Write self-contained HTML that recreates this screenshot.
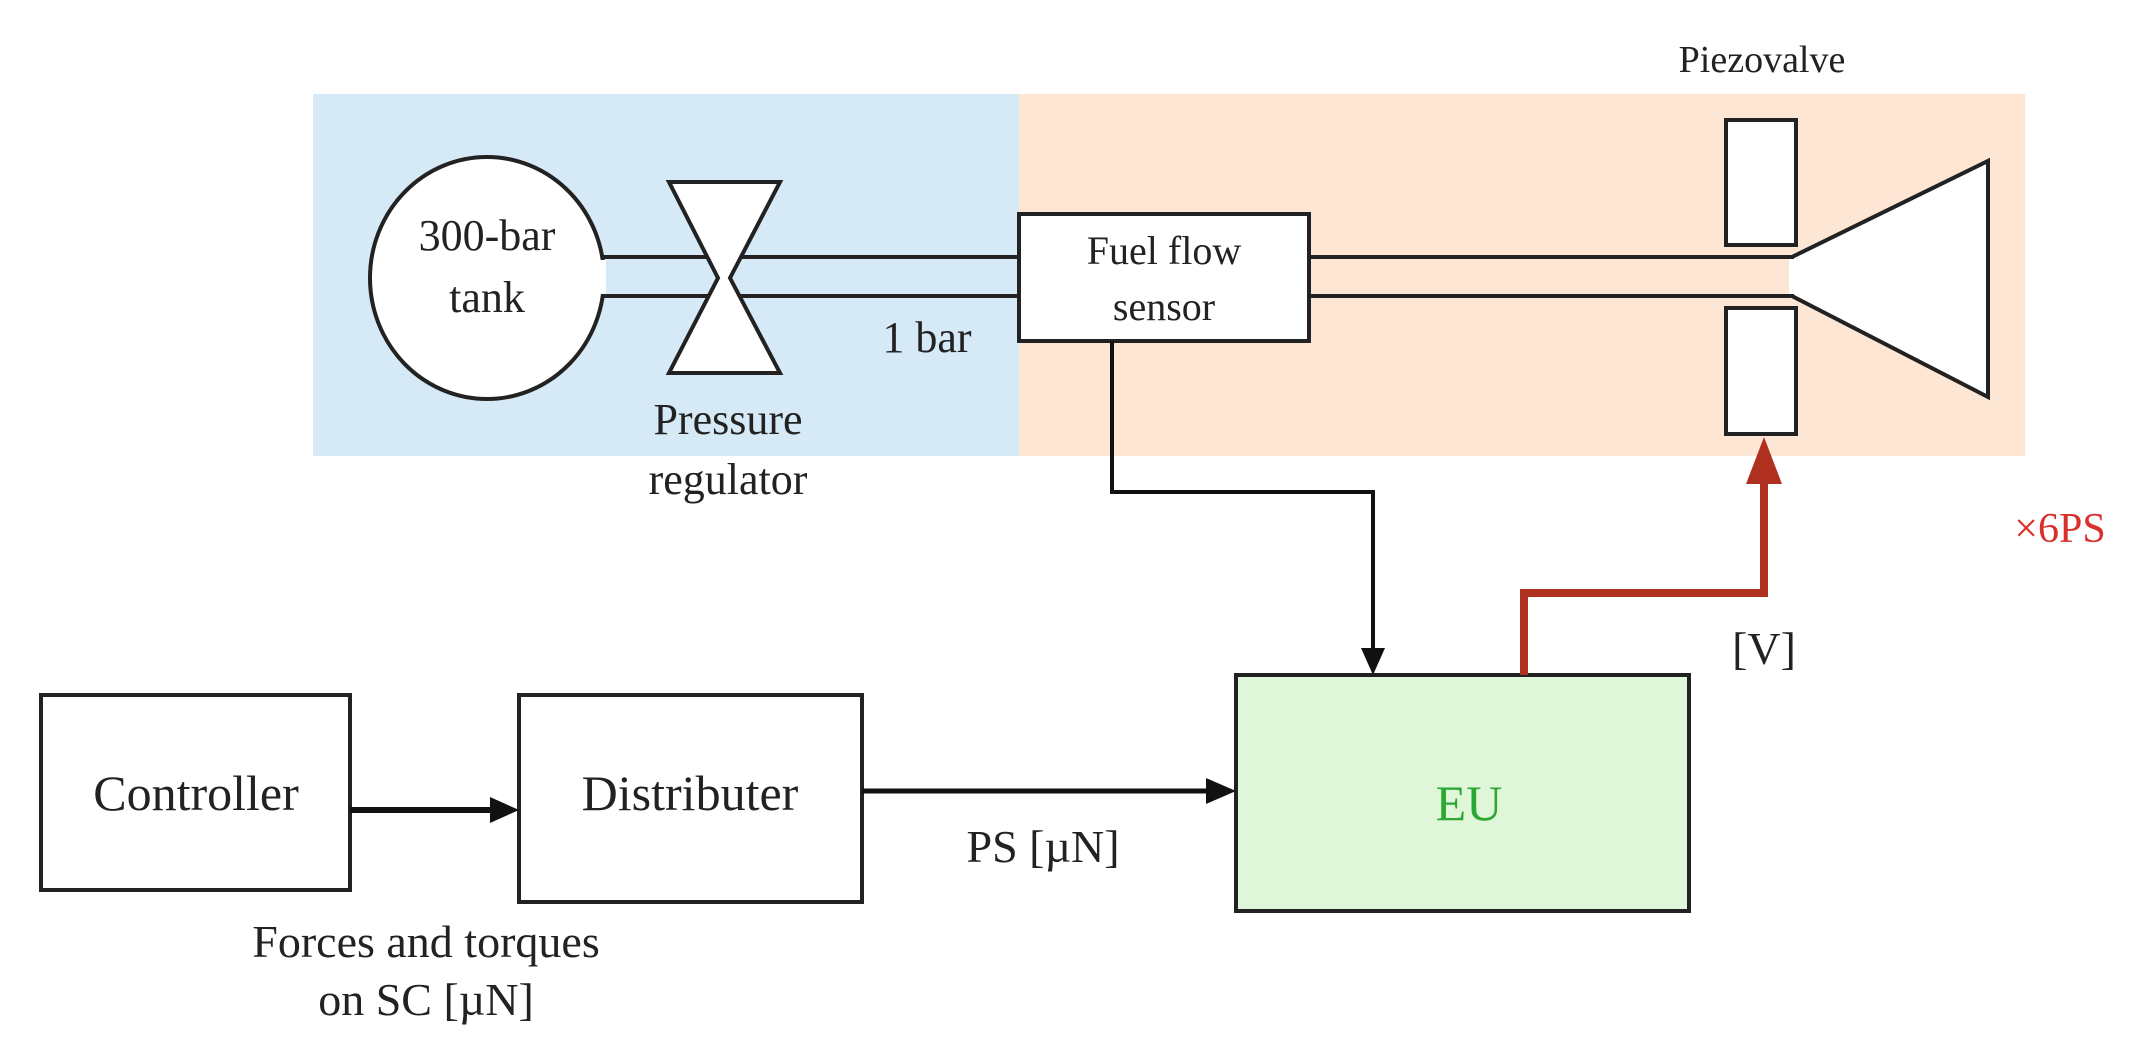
<!DOCTYPE html>
<html><head><meta charset="utf-8"><style>
html,body{margin:0;padding:0;background:#fff;}
svg{display:block;}
text{font-family:"Liberation Serif",serif;}
</style></head><body>
<svg width="2131" height="1052" viewBox="0 0 2131 1052" xmlns="http://www.w3.org/2000/svg">
<rect x="313" y="94" width="706" height="362" fill="#d6e9f7"/>
<rect x="1019" y="94" width="1006" height="362" fill="#fde6d4"/>
<g stroke="#222" stroke-width="4" fill="#fff">
<line x1="600" y1="257" x2="1019" y2="257"/>
<line x1="600" y1="296" x2="1019" y2="296"/>
<line x1="1309" y1="257" x2="1792" y2="257"/>
<line x1="1309" y1="296" x2="1792" y2="296"/>
<polygon points="1792,257 1988,161 1988,397 1792,296" fill="#fff"/>
<line x1="1792" y1="259" x2="1792" y2="294" stroke="#fff" stroke-width="6"/>
<ellipse cx="487" cy="278" rx="117" ry="121"/>
<rect x="596" y="260" width="10" height="34" stroke="none" fill="#fff"/>
<polygon points="669,182 780,182 730,278 780,373 669,373 718,278"/>
<rect x="1019" y="214" width="290" height="127"/>
<rect x="1726" y="120" width="70" height="125"/>
<rect x="1726" y="308" width="70" height="126"/>
<rect x="41" y="695" width="309" height="195"/>
<rect x="519" y="695" width="343" height="207"/>
<rect x="1236" y="675" width="453" height="236" fill="#e0f6d8"/>
</g>
<polyline points="1112,341 1112,492 1373,492 1373,650" fill="none" stroke="#111" stroke-width="4"/>
<polygon points="1361,648 1385,648 1373,675" fill="#111"/>
<line x1="350" y1="810" x2="495" y2="810" stroke="#111" stroke-width="6"/>
<polygon points="490,797 519,810 490,823" fill="#111"/>
<line x1="862" y1="791" x2="1210" y2="791" stroke="#111" stroke-width="5"/>
<polygon points="1206,778 1236,791 1206,804" fill="#111"/>
<polyline points="1524,675 1524,593 1764,593 1764,480" fill="none" stroke="#b0301f" stroke-width="8"/>
<polygon points="1746,484 1782,484 1764,437" fill="#b0301f"/>
<g font-size="44" fill="#222" text-anchor="middle">
<text x="487" y="250">300-bar</text>
<text x="487" y="312">tank</text>
<text x="728" y="434">Pressure</text>
<text x="728" y="494">regulator</text>
<text x="927" y="352">1 bar</text>
<text x="1164" y="264" font-size="40">Fuel flow</text>
<text x="1164" y="320" font-size="40">sensor</text>
<text x="1762" y="72" font-size="38">Piezovalve</text>
<text x="196" y="810" font-size="50">Controller</text>
<text x="690" y="810" font-size="50">Distributer</text>
<text x="1043" y="862" font-size="46">PS [µN]</text>
<text x="426" y="957" font-size="46">Forces and torques</text>
<text x="426" y="1015" font-size="46">on SC [µN]</text>
<text x="1764" y="664" font-size="46">[V]</text>
<text x="1469" y="820" font-size="50" fill="#2aa832">EU</text>
<text x="2060" y="542" font-size="42" fill="#d8302a">×6PS</text>
</g>
</svg>
</body></html>
